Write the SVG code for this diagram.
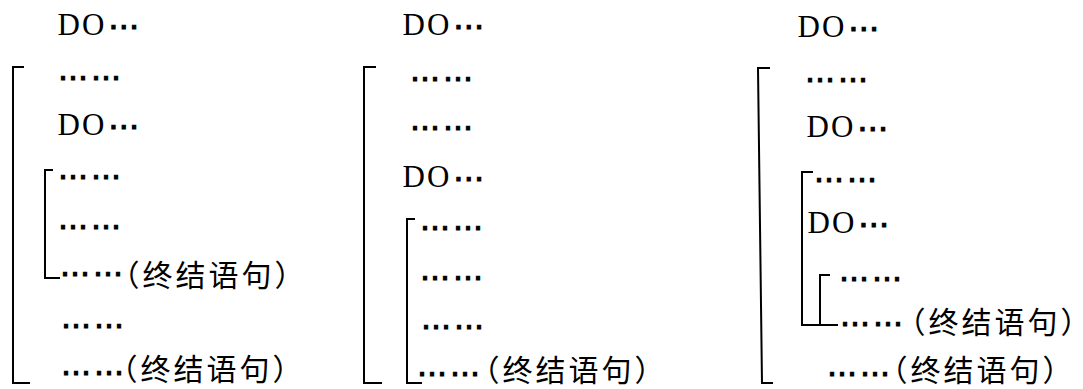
<svg xmlns="http://www.w3.org/2000/svg" width="1083" height="389" viewBox="0 0 1083 389">
<style>
.bg{fill:#ffffff}
.do{font-family:"Liberation Serif","Times New Roman",serif;font-size:31px;letter-spacing:2px;fill:#000}
.dt{font-family:"DejaVu Sans",sans-serif;font-size:30px;letter-spacing:3px;fill:#000;stroke:#000;stroke-width:1.1px}
.dd{font-family:"DejaVu Sans",sans-serif;font-size:31px;letter-spacing:0;fill:#000;stroke:#000;stroke-width:1.1px}
.cj{font-family:"Noto Sans CJK SC","Noto Sans CJK JP",sans-serif;font-size:30px;letter-spacing:3px;fill:#000;stroke:none;font-feature-settings:"halt"}
.br{fill:none;stroke:#000;stroke-width:2}
</style>
<rect class="bg" x="0" y="0" width="1083" height="389"/>
<g id="col1">
<text class="do" x="57.5" y="35">DO<tspan class="dd" dx="2" dy="-6.5">…</tspan></text>
<text class="dt" x="58" y="79.5">……</text>
<text class="do" x="57.5" y="135">DO<tspan class="dd" dx="2" dy="-6.5">…</tspan></text>
<text class="dt" x="58" y="178.5">……</text>
<text class="dt" x="58" y="228.5">……</text>
<text class="dt" x="60" y="275.5">……<tspan class="cj" x="124.5" y="286">（终结语句）</tspan></text>
<text class="dt" x="61" y="327.5">……</text>
<text class="dt" x="61" y="374.5">……<tspan class="cj" x="122.5" y="380">（终结语句）</tspan></text>
</g>
<g id="col2">
<text class="do" x="402.5" y="35">DO<tspan class="dd" dx="2" dy="-6.5">…</tspan></text>
<text class="dt" x="410" y="80.5">……</text>
<text class="dt" x="410" y="129.5">……</text>
<text class="do" x="402.5" y="187">DO<tspan class="dd" dx="2" dy="-6.5">…</tspan></text>
<text class="dt" x="420" y="229.5">……</text>
<text class="dt" x="420" y="279.5">……</text>
<text class="dt" x="421" y="328.5">……</text>
<text class="dt" x="417" y="375.5">……<tspan class="cj" x="484.5" y="381">（终结语句）</tspan></text>
</g>
<g id="col3">
<text class="do" x="797.5" y="37">DO<tspan class="dd" dx="2" dy="-6.5">…</tspan></text>
<text class="dt" x="805" y="81.5">……</text>
<text class="do" x="806.5" y="137">DO<tspan class="dd" dx="2" dy="-6.5">…</tspan></text>
<text class="dt" x="814" y="181.5">……</text>
<text class="do" x="807.5" y="233">DO<tspan class="dd" dx="2" dy="-6.5">…</tspan></text>
<text class="dt" x="839" y="280.5">……</text>
<text class="dt" x="840" y="325.5">……<tspan class="cj" x="910.5" y="333">（终结语句）</tspan></text>
<text class="dt" x="827" y="375.5">……<tspan class="cj" x="892.5" y="381">（终结语句）</tspan></text>
</g>
<g id="connectors">
<path class="br" d="M24,67 H13 V383 H30"/>
<path class="br" d="M53,170 H45 V278 H60"/>
<path class="br" d="M376,67 H364 V383 H382"/>
<path class="br" d="M415,219 H407 V383 H422"/>
<path class="br" d="M770,68 H758 L762,383 H773"/>
<path class="br" d="M813,172 H802 V325 H820"/>
<path class="br" d="M830,275 H820 V325 H838"/>
</g>
</svg>
